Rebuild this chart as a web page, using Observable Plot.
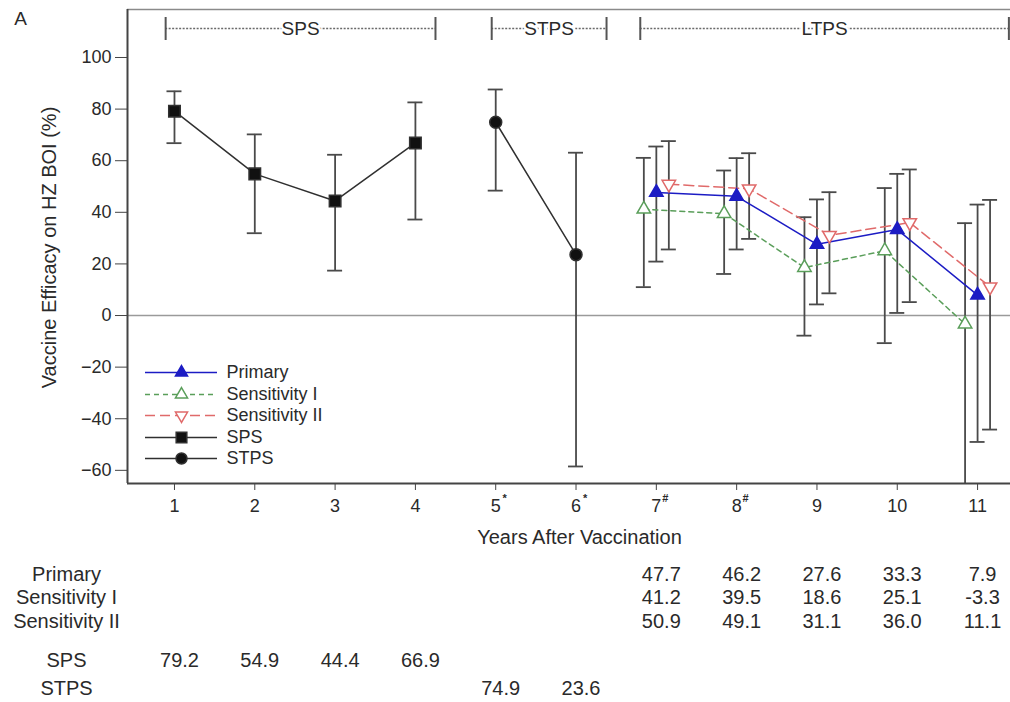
<!DOCTYPE html>
<html>
<head>
<meta charset="utf-8">
<script src="https://cdn.jsdelivr.net/npm/d3@7"></script>
<script src="https://cdn.jsdelivr.net/npm/@observablehq/plot@0.6"></script>
<style>
  html, body { margin: 0; padding: 0; background: #fff; }
  #chart svg { display: block; }
</style>
</head>
<body>
<div id="chart"></div>
<script>
// ---------------- DATA ----------------
const years = [1, 2, 3, 4, 5, 6, 7, 8, 9, 10, 11];
const tickSup = ["", "", "", "", "*", "*", "#", "#", "", "", ""];
const yTicks = [-60, -40, -20, 0, 20, 40, 60, 80, 100];

const spsYears = [1, 2, 3, 4];
const spsVE = [79.2, 54.9, 44.4, 66.9];
const spsLo = [66.8, 31.9, 17.4, 37.2];
const spsHi = [86.9, 70.2, 62.3, 82.6];

const stpsYears = [5, 6];
const stpsVE = [74.9, 23.6];
const stpsLo = [48.4, -58.5];
const stpsHi = [87.6, 63.1];

const ltpsYears = [7, 8, 9, 10, 11];
const primaryVE = [47.7, 46.2, 27.6, 33.3, 7.9];
const primaryLo = [20.9, 25.6, 4.3, 1.0, -49.0];
const primaryHi = [65.5, 61.0, 45.0, 54.9, 43.0];
const sens1VE = [41.2, 39.5, 18.6, 25.1, -3.3];
const sens1Lo = [11.0, 16.1, -7.8, -10.7, -78.0];
const sens1Hi = [61.1, 56.2, 38.1, 49.4, 35.8];
const sens2VE = [50.9, 49.1, 31.1, 36.0, 11.1];
const sens2Lo = [25.6, 29.7, 8.6, 5.2, -44.2];
const sens2Hi = [67.6, 62.9, 47.8, 56.6, 44.8];

const periodLabels = ["SPS", "STPS", "LTPS"];
const periodStart = [0.89, 4.95, 6.80];
const periodEnd = [4.25, 6.38, 11.39];

const seriesNames = ["Primary", "Sensitivity I", "Sensitivity II", "SPS", "STPS"];
const yAxisLabel = "Vaccine Efficacy on HZ BOI (%)";
const xAxisLabel = "Years After Vaccination";
const panelLabel = "A";

// ---------------- LAYOUT ----------------
const W = 1010, H = 702, mL = 127, mR = 0, mT = 9, mB = 219;
const xDom = [0.415, 11.41], yDom = [-65.1, 118.6];
const pw = W - mL - mR, ph = H - mT - mB;
const px2x = p => xDom[0] + (p - mL) / pw * (xDom[1] - xDom[0]);
const px2y = p => yDom[1] - (p - mT) / ph * (yDom[1] - yDom[0]);
const unitX = (xDom[1] - xDom[0]) / pw; // data units per px
const capW = 7.5 * unitX;
const offX = 12.5 * unitX;

const FONT = "'Liberation Sans', Arial, sans-serif";
const TXT = "#2a2a2a";
const BAR = "#4a4a4a";

const series = [
  {name: "Primary", xs: ltpsYears, ve: primaryVE, lo: primaryLo, hi: primaryHi, off: 0,
   stroke: "#1c1cc4", dash: null, symbol: "triangle", fill: "#1c1cc4", rotate: 0, r: 5},
  {name: "Sensitivity I", xs: ltpsYears, ve: sens1VE, lo: sens1Lo, hi: sens1Hi, off: -offX,
   stroke: "#5a9e5a", dash: "5,4", symbol: "triangle", fill: "white", rotate: 0, r: 5},
  {name: "Sensitivity II", xs: ltpsYears, ve: sens2VE, lo: sens2Lo, hi: sens2Hi, off: offX,
   stroke: "#e06a6a", dash: "10,5", symbol: "triangle", fill: "white", rotate: 180, r: 5},
  {name: "SPS", xs: spsYears, ve: spsVE, lo: spsLo, hi: spsHi, off: 0,
   stroke: "#303030", dash: null, symbol: "square", fill: "#111", rotate: 0, r: 6.5},
  {name: "STPS", xs: stpsYears, ve: stpsVE, lo: stpsLo, hi: stpsHi, off: 0,
   stroke: "#303030", dash: null, symbol: "circle", fill: "#111", rotate: 0, r: 6}
];
series.forEach(s => {
  s.rows = s.xs.map((x, i) => ({x: x + s.off, year: x, ve: s.ve[i], lo: s.lo[i], hi: s.hi[i]}));
});

const marks = [];

// zero line
marks.push(Plot.ruleY([0], {stroke: "#9a9a9a", strokeWidth: 1.5}));

// top frame line
marks.push(Plot.ruleY([yDom[1]], {stroke: "#8a8a8a", strokeWidth: 1.5}));

// period brackets
const periods = periodLabels.map((l, i) => ({label: l, a: periodStart[i], b: periodEnd[i], mid: (periodStart[i] + periodEnd[i]) / 2}));
const brY = px2y(28), brY1 = px2y(17), brY2 = px2y(40);
marks.push(Plot.ruleY(periods, {y: () => brY, x1: "a", x2: "b", stroke: "#6a6a6a", strokeWidth: 1.5, strokeDasharray: "2,1.5"}));
marks.push(Plot.ruleX(periods, {x: "a", y1: brY1, y2: brY2, stroke: "#555", strokeWidth: 2}));
marks.push(Plot.ruleX(periods, {x: "b", y1: brY1, y2: brY2, stroke: "#555", strokeWidth: 2}));
marks.push(Plot.text(periods, {x: "mid", y: () => brY, text: "label", fontSize: 19, fill: TXT,
  stroke: "white", strokeWidth: 5, paintOrder: "stroke"}));

// error bars
series.forEach(s => {
  marks.push(Plot.ruleX(s.rows, {x: "x", y1: "lo", y2: "hi", stroke: BAR, strokeWidth: 1.8, clip: true}));
  marks.push(Plot.ruleY(s.rows.filter(d => d.lo >= yDom[0]), {y: "lo", x1: d => d.x - capW, x2: d => d.x + capW, stroke: BAR, strokeWidth: 1.8}));
  marks.push(Plot.ruleY(s.rows, {y: "hi", x1: d => d.x - capW, x2: d => d.x + capW, stroke: BAR, strokeWidth: 1.8}));
});

// lines + markers
series.forEach(s => {
  marks.push(Plot.line(s.rows, {x: "x", y: "ve", stroke: s.stroke, strokeWidth: 1.5,
    strokeDasharray: s.dash || undefined}));
});
series.forEach(s => {
  marks.push(Plot.dot(s.rows, {x: "x", y: "ve", symbol: () => s.symbol, r: s.r, fill: s.fill,
    stroke: s.stroke, strokeWidth: 1.5, rotate: s.rotate}));
});

// legend
const legRowsPx = [372, 394, 415, 437, 458];
const lx1 = px2x(145), lx2 = px2x(217), lxm = px2x(181), ltx = px2x(226);
series.forEach((s, i) => {
  const yy = px2y(legRowsPx[i]);
  marks.push(Plot.ruleY([yy], {x1: lx1, x2: lx2, stroke: s.stroke, strokeWidth: 1.5, strokeDasharray: s.dash || undefined}));
  marks.push(Plot.dot([yy], {x: lxm, y: d => d, symbol: () => s.symbol, r: s.r - 0.5, fill: s.fill, stroke: s.stroke, strokeWidth: 1.5, rotate: s.rotate}));
  marks.push(Plot.text([seriesNames[i]], {x: ltx, y: yy, text: d => d, textAnchor: "start", fontSize: 18, fill: TXT}));
});

// axes
marks.push(Plot.axisY({ticks: yTicks, tickSize: 12, tickPadding: 4, fontSize: 18, stroke: "#444", fill: TXT, label: null}));
marks.push(Plot.axisX({ticks: years, tickSize: 7, tickPadding: 9, fontSize: 18, stroke: "#444", fill: TXT, label: null, tickFormat: d => String(d)}));
marks.push(Plot.ruleX([xDom[0]], {stroke: "#444", strokeWidth: 2}));
marks.push(Plot.ruleY([yDom[0]], {stroke: "#444", strokeWidth: 2}));

// superscripts on tick labels
const supRows = years.map((y, i) => ({x: y, t: tickSup[i]})).filter(d => d.t);
marks.push(Plot.text(supRows, {x: "x", text: "t", frameAnchor: "bottom", dy: 18, dx: 9, fontSize: 11, fontWeight: "bold", fill: TXT}));

// axis titles
marks.push(Plot.text([xAxisLabel], {x: px2x(579), text: d => d, frameAnchor: "bottom", dy: 60, fontSize: 20, fill: TXT}));
marks.push(Plot.text([yAxisLabel], {x: px2x(49), y: px2y(247), text: d => d, rotate: -90, fontSize: 20, fill: TXT}));
marks.push(Plot.text([panelLabel], {x: px2x(20), y: px2y(18), text: d => d, fontSize: 19, fill: TXT}));

// table below
const tableDy = [97, 120, 144, 183, 211];
const tableRowLabelX = px2x(66);
series.forEach((s, i) => {
  marks.push(Plot.text([seriesNames[i]], {x: tableRowLabelX, text: d => d, frameAnchor: "bottom", dy: tableDy[i], fontSize: 20, fill: TXT}));
  marks.push(Plot.text(s.rows, {x: "year", text: d => d.ve.toFixed(1), frameAnchor: "bottom", dy: tableDy[i], dx: 5, fontSize: 20, fill: TXT}));
});

const chart = Plot.plot({
  width: W, height: H,
  marginLeft: mL, marginRight: mR, marginTop: mT, marginBottom: mB,
  x: {domain: xDom, axis: null},
  y: {domain: yDom, axis: null},
  style: {fontFamily: FONT, background: "white", color: TXT, overflow: "visible"},
  marks
});
document.getElementById("chart").appendChild(chart);
</script>
</body>
</html>
